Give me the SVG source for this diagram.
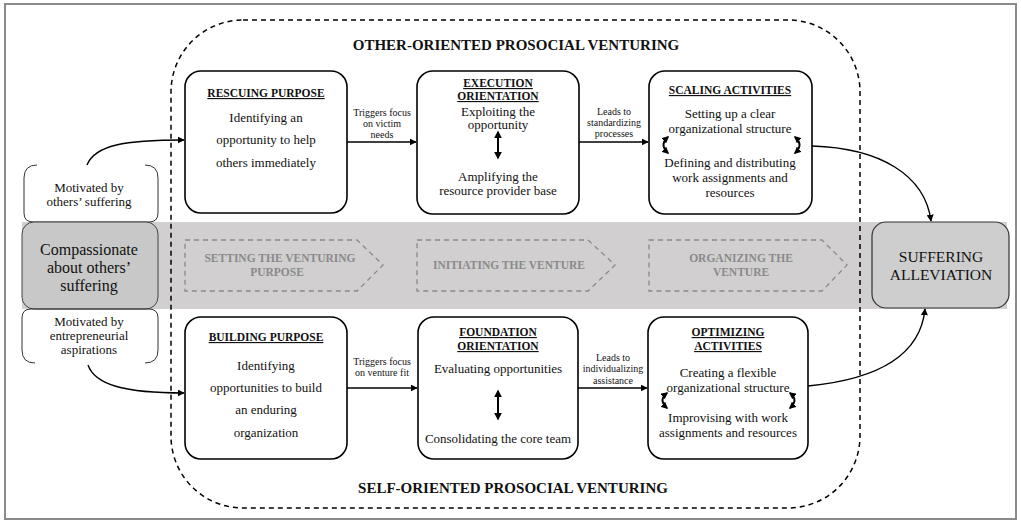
<svg xmlns="http://www.w3.org/2000/svg" width="1021" height="524" viewBox="0 0 1021 524">
<defs>
<marker id="ah" viewBox="0 0 10 10" refX="9" refY="5" markerWidth="7" markerHeight="7" orient="auto-start-reverse" markerUnits="userSpaceOnUse">
<path d="M0,0 L10,5 L0,10 z" fill="#000"/>
</marker>
<marker id="ahs" viewBox="0 0 10 10" refX="8" refY="5" markerWidth="8" markerHeight="8" orient="auto-start-reverse" markerUnits="userSpaceOnUse">
<path d="M0,0 L10,5 L0,10 z" fill="#000"/>
</marker>
<marker id="ahc" viewBox="0 0 10 10" refX="8" refY="5" markerWidth="7" markerHeight="7" orient="auto-start-reverse" markerUnits="userSpaceOnUse">
<path d="M0,0 L10,5 L0,10 z" fill="#000"/>
</marker>
</defs>
<style>
text{font-family:"Liberation Serif","Times New Roman",serif;fill:#111;text-anchor:middle}
.box{fill:#fff;stroke:#000;stroke-width:1.6}
.b{font-size:13px}
.h{font-size:11.5px;font-weight:bold;text-decoration:underline}
.s{font-size:10px}
.t{font-size:15px;font-weight:bold}
.cv{fill:none;stroke:#8a8a8a;stroke-width:1.3;stroke-dasharray:5 4}
.cvt{font-size:11.5px;font-weight:bold;fill:#8a8a8a}
.con{fill:none;stroke:#000;stroke-width:1.4}
.dbl{fill:none;stroke:#000;stroke-width:2}
.br{fill:none;stroke:#333;stroke-width:1}
</style>
<rect x="5" y="4" width="1011" height="515" fill="#fff" stroke="#8a8a8a" stroke-width="2"/>
<rect id="band" x="22" y="222" width="985" height="87" fill="#d1cfd0"/>
<rect id="frame" x="171" y="20" width="689" height="488" rx="72" fill="none" stroke="#000" stroke-width="1.5" stroke-dasharray="5 4"/>
<text class="t" x="516" y="50">OTHER-ORIENTED PROSOCIAL VENTURING</text>
<text class="t" x="513" y="493">SELF-ORIENTED PROSOCIAL VENTURING</text>

<g id="motivated-others">
<path class="br" d="M37 165 Q24 165 24 178 L24 213 Q24 222 33 222 L149 222 Q158 222 158 213 L158 178 Q158 165 145 165"/>
<text class="b" x="89" y="192">Motivated by</text>
<text class="b" x="89" y="206">others’ suffering</text>
</g>
<g id="compassionate">
<rect x="22" y="222" width="136" height="87" rx="12" fill="#c8c8c8" stroke="#444" stroke-width="1"/>
<text x="89" y="255" font-size="16">Compassionate</text>
<text x="89" y="273" font-size="16">about others’</text>
<text x="89" y="291" font-size="16">suffering</text>
</g>
<g id="motivated-entre">
<path class="br" d="M35 363 Q22 363 22 350 L22 318 Q22 309 31 309 L149 309 Q158 309 158 318 L158 350 Q158 363 145 363"/>
<text class="b" x="89" y="326">Motivated by</text>
<text class="b" x="89" y="340">entrepreneurial</text>
<text class="b" x="89" y="354">aspirations</text>
</g>

<g id="phase-setting">
<path class="cv" d="M185 240 L357 240 L383 265 L357 291 L185 291 Z"/>
<text class="cvt" x="280" y="262">SETTING THE VENTURING</text>
<text class="cvt" x="277" y="276">PURPOSE</text>
</g>
<g id="phase-initiating">
<path class="cv" d="M417 240 L588 240 L615 265 L588 291 L417 291 Z"/>
<text class="cvt" x="509" y="269">INITIATING THE VENTURE</text>
</g>
<g id="phase-organizing">
<path class="cv" d="M649 240 L822 240 L847 265 L822 291 L649 291 Z"/>
<text class="cvt" x="741" y="262">ORGANIZING THE</text>
<text class="cvt" x="741" y="276">VENTURE</text>
</g>

<g id="rescuing">
<rect class="box" x="185" y="71" width="162" height="142" rx="16"/>
<text class="h" x="266" y="97">RESCUING PURPOSE</text>
<text class="b" x="266" y="122">Identifying an</text>
<text class="b" x="266" y="144">opportunity to help</text>
<text class="b" x="266" y="167">others immediately</text>
</g>
<g id="execution">
<rect class="box" x="417" y="71" width="162" height="143" rx="16"/>
<text class="h" x="498" y="87">EXECUTION</text>
<text class="h" x="498" y="100">ORIENTATION</text>
<text class="b" x="498" y="116">Exploiting the</text>
<text class="b" x="498" y="129">opportunity</text>
<path class="dbl" d="M498 132 L498 158" marker-start="url(#ahs)" marker-end="url(#ahs)"/>
<text class="b" x="498" y="181">Amplifying the</text>
<text class="b" x="498" y="195">resource provider base</text>
</g>
<g id="scaling">
<rect class="box" x="649" y="71" width="163" height="143" rx="16"/>
<text class="h" x="730" y="94">SCALING ACTIVITIES</text>
<text class="b" x="730" y="118">Setting up a clear</text>
<text class="b" x="730" y="133">organizational structure</text>
<text class="b" x="730" y="167">Defining and distributing</text>
<text class="b" x="730" y="182">work assignments and</text>
<text class="b" x="730" y="197">resources</text>
<path class="dbl" d="M668 137 Q659 145 668 153" marker-start="url(#ahc)" marker-end="url(#ahc)"/>
<path class="dbl" d="M795 137 Q804 145 795 153" marker-start="url(#ahc)" marker-end="url(#ahc)"/>
</g>

<g id="building">
<rect class="box" x="185" y="317" width="162" height="142" rx="16"/>
<text class="h" x="266" y="341">BUILDING PURPOSE</text>
<text class="b" x="266" y="370">Identifying</text>
<text class="b" x="266" y="392">opportunities to build</text>
<text class="b" x="266" y="414">an enduring</text>
<text class="b" x="266" y="437">organization</text>
</g>
<g id="foundation">
<rect class="box" x="418" y="317" width="160" height="142" rx="16"/>
<text class="h" x="498" y="336">FOUNDATION</text>
<text class="h" x="498" y="350">ORIENTATION</text>
<text class="b" x="498" y="373">Evaluating opportunities</text>
<path class="dbl" d="M498 391 L498 419" marker-start="url(#ahs)" marker-end="url(#ahs)"/>
<text class="b" x="498" y="443">Consolidating the core team</text>
</g>
<g id="optimizing">
<rect class="box" x="648" y="317" width="160" height="142" rx="16"/>
<text class="h" x="728" y="336">OPTIMIZING</text>
<text class="h" x="728" y="350">ACTIVITIES</text>
<text class="b" x="728" y="377">Creating a flexible</text>
<text class="b" x="728" y="392">organizational structure</text>
<text class="b" x="728" y="422">Improvising with work</text>
<text class="b" x="728" y="437">assignments and resources</text>
<path class="dbl" d="M667 393 Q658 400 667 408" marker-start="url(#ahc)" marker-end="url(#ahc)"/>
<path class="dbl" d="M790 393 Q799 400 790 408" marker-start="url(#ahc)" marker-end="url(#ahc)"/>
</g>

<g id="suffering">
<rect x="872" y="222" width="137" height="86" rx="14" fill="#cecece" stroke="#333" stroke-width="1.2"/>
<text x="941" y="262" font-size="15.5">SUFFERING</text>
<text x="941" y="280" font-size="15.5">ALLEVIATION</text>
</g>

<g id="connectors">
<path class="con" d="M87 165 C95 145 125 140 184 140" marker-end="url(#ah)"/>
<path class="con" d="M88 365 C95 385 125 393 184 393" marker-end="url(#ah)"/>
<path class="con" d="M347 142 L416 142" marker-end="url(#ah)"/>
<path class="con" d="M579 142 L648 142" marker-end="url(#ah)"/>
<path class="con" d="M347 388 L417 388" marker-end="url(#ah)"/>
<path class="con" d="M578 388 L647 388" marker-end="url(#ah)"/>
<path class="con" d="M812 146 C880 148 925 175 931 221" marker-end="url(#ah)"/>
<path class="con" d="M808 386 C870 380 920 360 925 309" marker-end="url(#ah)"/>
<text class="s" x="382" y="116">Triggers focus</text>
<text class="s" x="382" y="127">on victim</text>
<text class="s" x="382" y="138">needs</text>
<text class="s" x="614" y="115">Leads to</text>
<text class="s" x="614" y="126">standardizing</text>
<text class="s" x="614" y="137">processes</text>
<text class="s" x="382" y="365">Triggers focus</text>
<text class="s" x="382" y="376">on venture fit</text>
<text class="s" x="613" y="361">Leads to</text>
<text class="s" x="613" y="372">individualizing</text>
<text class="s" x="613" y="384">assistance</text>
</g>
</svg>
